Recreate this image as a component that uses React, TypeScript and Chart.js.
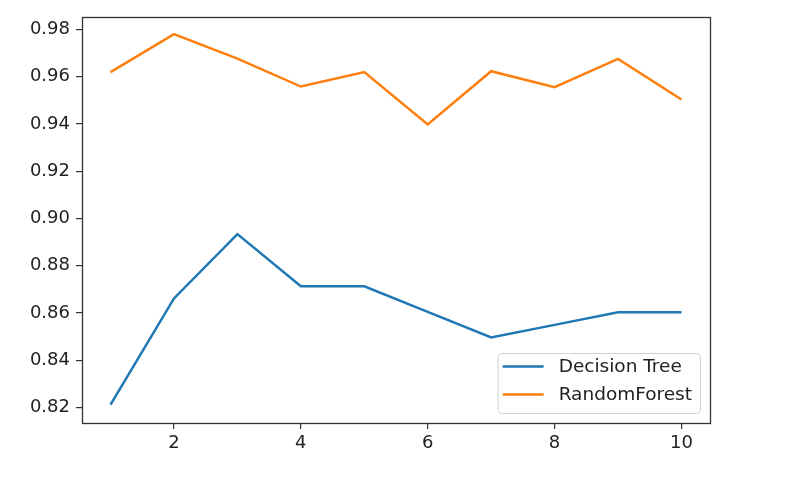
import React, { useEffect, useRef } from "react";
import { Chart, registerables } from "chart.js";

Chart.register(...registerables);

const xValues = [1, 2, 3, 4, 5, 6, 7, 8, 9, 10];
const decisionTree = [0.8213, 0.8662, 0.8934, 0.8713, 0.8713, 0.8605, 0.8497, 0.855, 0.8603, 0.8603];
const randomForest = [0.9619, 0.978, 0.9676, 0.9558, 0.9619, 0.9398, 0.9623, 0.9555, 0.9675, 0.9503];
const yTicks = [0.82, 0.84, 0.86, 0.88, 0.9, 0.92, 0.94, 0.96, 0.98];
const xTicks = [2, 4, 6, 8, 10];
const seriesLabels = ["Decision Tree", "RandomForest"];
const seriesColors = ["#1f77b4", "#ff7f0e"];

const FONT_FAMILY = "'DejaVu Sans', sans-serif";
const FONT_SIZE = 18;
const LEGEND_FONT_SIZE = 18.5;

const framePlugin = {
  id: "frame",
  afterDraw(chart: any) {
    const { ctx, chartArea } = chart;
    ctx.save();
    ctx.strokeStyle = "#333";
    ctx.lineWidth = 1.3;
    ctx.strokeRect(
      Math.round(chartArea.left) + 0.5,
      Math.round(chartArea.top) + 0.5,
      Math.round(chartArea.right - chartArea.left),
      Math.round(chartArea.bottom - chartArea.top)
    );
    ctx.restore();
  },
};

const legendPlugin = {
  id: "innerLegend",
  afterDraw(chart: any) {
    const { ctx, chartArea } = chart;
    const datasets = chart.data.datasets;
    ctx.save();
    ctx.font = `${LEGEND_FONT_SIZE}px ${FONT_FAMILY}`;
    let maxW = 0;
    datasets.forEach((d: any) => {
      maxW = Math.max(maxW, ctx.measureText(d.label).width);
    });
    const pad = 5;
    const handleLen = 41;
    const gap = 15;
    const w = pad + handleLen + gap + maxW + 8;
    const h = 60;
    const x1 = chartArea.right - 10 - w;
    const y1 = chartArea.bottom - 10 - h;
    ctx.beginPath();
    if ((ctx as any).roundRect) {
      (ctx as any).roundRect(x1 + 0.5, y1 + 0.5, w, h, 4);
    } else {
      ctx.rect(x1 + 0.5, y1 + 0.5, w, h);
    }
    ctx.fillStyle = "rgba(255,255,255,0.8)";
    ctx.fill();
    ctx.strokeStyle = "#d0d0d0";
    ctx.lineWidth = 1;
    ctx.stroke();
    datasets.forEach((d: any, i: number) => {
      const yy = y1 + 13.5 + i * 28;
      ctx.beginPath();
      ctx.strokeStyle = d.borderColor;
      ctx.lineWidth = 2.5;
      ctx.moveTo(x1 + pad, yy);
      ctx.lineTo(x1 + pad + handleLen, yy);
      ctx.stroke();
      ctx.fillStyle = "#222";
      ctx.textBaseline = "middle";
      ctx.textAlign = "left";
      ctx.fillText(d.label, x1 + pad + handleLen + gap, yy + 1);
    });
    ctx.restore();
  },
};

export default function App() {
  const canvasRef = useRef<HTMLCanvasElement | null>(null);

  useEffect(() => {
    document.body.style.margin = "0";
    const canvas = canvasRef.current;
    if (!canvas) return;
    const tickFont = { family: FONT_FAMILY, size: FONT_SIZE };
    const chart = new Chart(canvas, {
      type: "line",
      data: {
        datasets: [decisionTree, randomForest].map((vals, i) => ({
          label: seriesLabels[i],
          data: xValues.map((x, j) => ({ x, y: vals[j] })),
          borderColor: seriesColors[i],
          backgroundColor: seriesColors[i],
          borderWidth: 2.5,
          pointRadius: 0,
          tension: 0,
          fill: false,
        })),
      },
      options: {
        responsive: false,
        animation: false,
        devicePixelRatio: 1,
        layout: { padding: { left: 0, top: 14, right: 99, bottom: 19 } },
        plugins: {
          legend: { display: false },
          tooltip: { enabled: false },
        },
        scales: {
          x: {
            type: "linear",
            min: 0.55,
            max: 10.45,
            afterBuildTicks: (s: any) => {
              s.ticks = xTicks.map((v) => ({ value: v }));
            },
            afterFit: (s: any) => {
              s.height = 40;
            },
            ticks: {
              font: tickFont,
              color: "#222",
              padding: 4,
              maxRotation: 0,
              autoSkip: false,
              callback: (v: any) => String(v),
            },
            grid: {
              drawOnChartArea: false,
              drawTicks: true,
              tickLength: 6,
              color: "#333",
              lineWidth: 1.2,
            },
            border: { display: false },
          },
          y: {
            type: "linear",
            min: 0.8135,
            max: 0.9853,
            afterBuildTicks: (s: any) => {
              s.ticks = yTicks.map((v) => ({ value: v }));
            },
            afterFit: (s: any) => {
              s.width = 82;
            },
            ticks: {
              font: tickFont,
              color: "#222",
              padding: 6,
              autoSkip: false,
              callback: (v: any) => Number(v).toFixed(2),
            },
            grid: {
              drawOnChartArea: false,
              drawTicks: true,
              tickLength: 6,
              color: "#333",
              lineWidth: 1.2,
            },
            border: { display: false },
          },
        },
      } as any,
      plugins: [framePlugin, legendPlugin],
    });
    return () => chart.destroy();
  }, []);

  return <canvas ref={canvasRef} width={809} height={482} style={{ display: "block" }} />;
}
